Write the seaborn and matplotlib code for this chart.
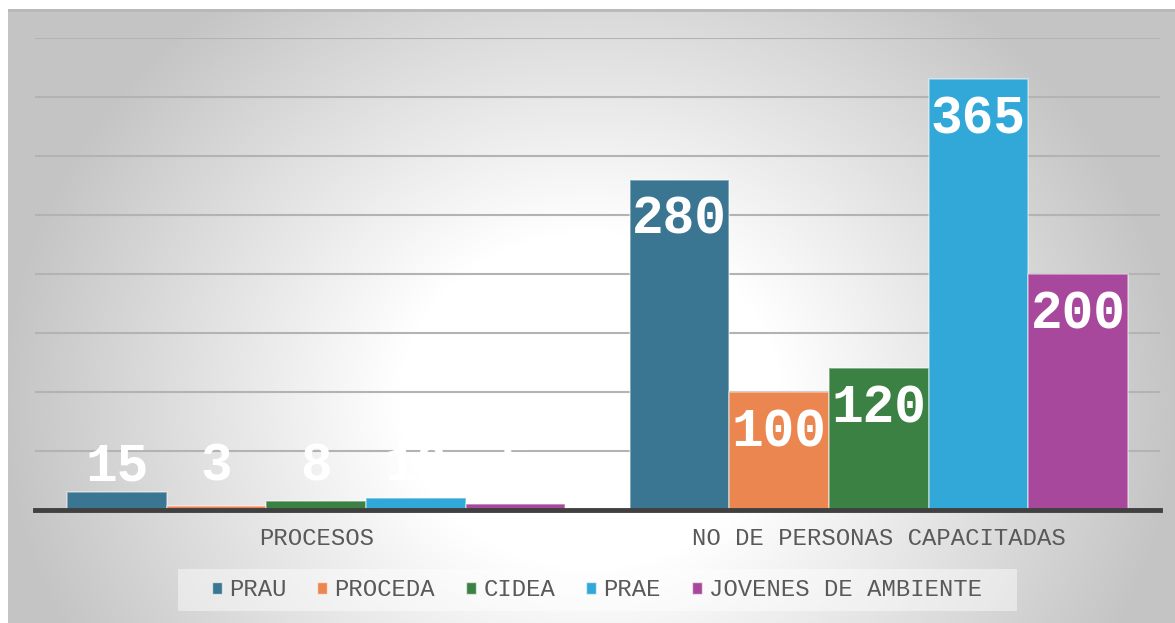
import numpy as np
import pandas as pd
import matplotlib
matplotlib.use('Agg')
import matplotlib.pyplot as plt
from matplotlib.patches import Patch, Rectangle
import seaborn as sns

categorias = ['PROCESOS', 'NO DE PERSONAS CAPACITADAS']
programas = ['PRAU', 'PROCEDA', 'CIDEA', 'PRAE', 'JOVENES DE AMBIENTE']
procesos = [15, 3, 8, 10, 5]
personas = [280, 100, 120, 365, 200]
colores = ['#3a7692', '#ec8650', '#3c8144', '#31a8d8', '#a8489c']

d = pd.DataFrame({
    'categoria': np.repeat(categorias, len(programas)),
    'programa': programas * 2,
    'valor': procesos + personas,
})

sns.set_style('white')
plt.rcParams['font.family'] = ['Liberation Mono', 'DejaVu Sans Mono']

W, H = 1175, 623
fig = plt.figure(figsize=(W / 100, H / 100), dpi=100, facecolor='white')

# fondo con degradado radial (centro blanco)
bg = fig.add_axes([8 / W, 0, 1 - 8 / W, 1 - 9 / H], zorder=0)
yy, xx = np.mgrid[9:623, 8:1175]
r = np.sqrt(((xx - 590) / 640.0) ** 2 + ((yy - 400) / 560.0) ** 2)
g = 1.0 - 0.26 * np.clip((r - 0.3) / 0.7, 0, 1.2)
g = np.clip(g, 0.77, 1.0)
bg.imshow(np.dstack([g, g, g]), aspect='auto', interpolation='bilinear')
bg.axhline(0, color='#b8b8b8', lw=2)
bg.set_axis_off()

# caja de la leyenda
fig.patches.append(Rectangle((178 / W, 1 - 611 / H), 839 / W, 42 / H,
                             transform=fig.transFigure, facecolor='white',
                             alpha=0.45, edgecolor='none', zorder=0.5))

ax = fig.add_axes([35 / W, 1 - 510 / H, 1125 / W, (510 - 38) / H], zorder=1)
ax.patch.set_alpha(0)

sns.barplot(data=d, x='categoria', y='valor', hue='programa', order=categorias,
            hue_order=programas, palette=colores, saturation=1, width=0.885,
            edgecolor=(1, 1, 1, 0.45), linewidth=1.2, legend=False, ax=ax, zorder=3)

ax.set_ylim(0, 400)
ax.set_xlim(-0.5, 1.5)
ax.set_yticks(np.arange(50, 401, 50))
ax.yaxis.grid(True, color='#b3b3b3', lw=1.5, zorder=0)
ax.set_axisbelow(True)
ax.tick_params(axis='y', left=False, labelleft=False)
ax.tick_params(axis='x', bottom=False, pad=9, labelsize=17.2, labelcolor='#595959')
ax.set_xlabel('')
ax.set_ylabel('')
for s in ['top', 'right', 'left']:
    ax.spines[s].set_visible(False)
ax.spines['bottom'].set_color('#404040')
ax.spines['bottom'].set_linewidth(3.5)
ax.spines['bottom'].set_zorder(5)

# etiquetas de datos
for cont in ax.containers:
    for bar in cont:
        v = bar.get_height()
        x = bar.get_x() + bar.get_width() / 2
        y = max(v - 34, 36.6)
        ax.text(x, y, f'{v:.0f}', ha='center', va='center', color='white',
                fontsize=38, fontweight='bold', zorder=6)

handles = [Patch(facecolor=c, edgecolor=(1, 1, 1, 0.6), lw=1) for c in colores]
leg = ax.legend(handles, programas, loc='center', ncol=5,
                bbox_to_anchor=(597 / W, 1 - 590 / H), bbox_transform=fig.transFigure,
                frameon=False, handlelength=0.42, handleheight=0.42, handletextpad=0.3,
                columnspacing=1.3, borderpad=0.3, fontsize=17.2)
for t in leg.get_texts():
    t.set_color('#595959')

fig.savefig('out.png', dpi=100, facecolor='white')
